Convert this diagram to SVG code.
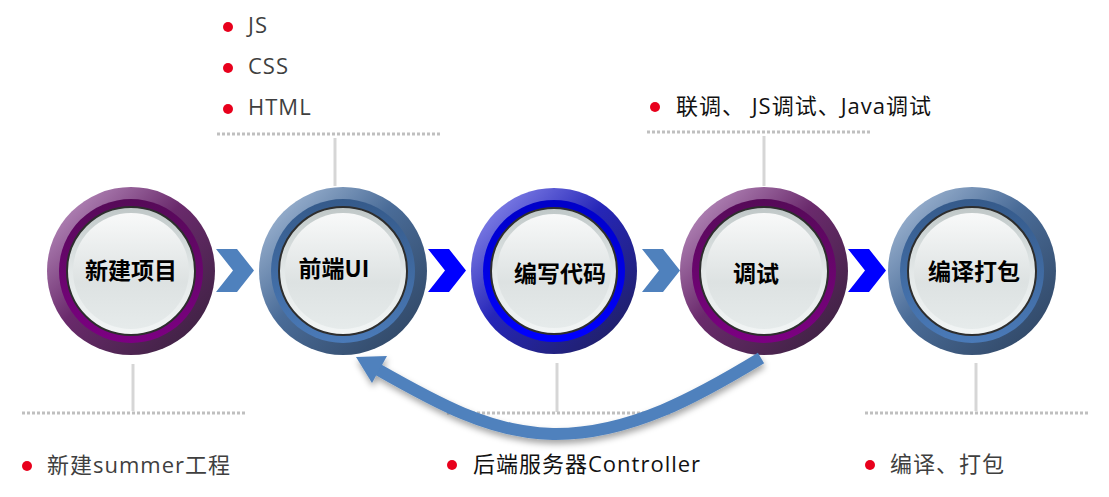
<svg xmlns="http://www.w3.org/2000/svg" width="1109" height="497" viewBox="0 0 1109 497">
<defs>
<style>
.lbl{font-family:"Noto Sans CJK SC",sans-serif;font-size:23px;font-weight:bold;fill:#000;text-anchor:middle}
.note{font-family:"Open Sans","Noto Sans CJK SC",sans-serif;font-size:22px;letter-spacing:1px;fill:#3F3F3F}
.noteb{font-family:"Open Sans","Noto Sans CJK SC",sans-serif;font-size:22px;letter-spacing:1px;fill:#111}
.dot{fill:#E8001C}
.dash{stroke:#BFBFBF;stroke-width:3;stroke-dasharray:3 2;fill:none}
.vl{stroke:#D6D6D6;stroke-width:3;fill:none}
.rim{fill:url(#disk);stroke:#2E2E2E;stroke-width:2}
.core{fill:url(#core)}
.chs{fill:#4F81BD}
.chb{fill:#0000FF}
</style>
<linearGradient id="pOut" x1="0" y1="0" x2="1" y2="1"><stop offset="0" stop-color="#C9A3CF"/><stop offset="0.45" stop-color="#6A2A6C"/><stop offset="1" stop-color="#35203A"/></linearGradient>
<linearGradient id="pIn" x1="0" y1="0" x2="0" y2="1"><stop offset="0" stop-color="#560A58"/><stop offset="1" stop-color="#7C0082"/></linearGradient>
<linearGradient id="sOut" x1="0" y1="0" x2="1" y2="1"><stop offset="0" stop-color="#B3C7E0"/><stop offset="0.45" stop-color="#4A6C98"/><stop offset="1" stop-color="#2B405C"/></linearGradient>
<linearGradient id="sIn" x1="0" y1="0" x2="0" y2="1"><stop offset="0" stop-color="#355A8A"/><stop offset="1" stop-color="#4A7AB8"/></linearGradient>
<linearGradient id="bOut" x1="0" y1="0" x2="1" y2="1"><stop offset="0" stop-color="#9C9CF5"/><stop offset="0.45" stop-color="#2626B8"/><stop offset="1" stop-color="#1E1E55"/></linearGradient>
<linearGradient id="bIn" x1="0" y1="0" x2="0" y2="1"><stop offset="0" stop-color="#0000C8"/><stop offset="1" stop-color="#0000FF"/></linearGradient>
<linearGradient id="disk" x1="0" y1="0" x2="0" y2="1"><stop offset="0" stop-color="#BFC7C7"/><stop offset="0.5" stop-color="#E3E8E8"/><stop offset="1" stop-color="#F2F5F5"/></linearGradient>
<linearGradient id="core" x1="0" y1="0" x2="0" y2="1"><stop offset="0" stop-color="#F8F9F9"/><stop offset="0.6" stop-color="#DDE2E2"/><stop offset="1" stop-color="#E6EBEB"/></linearGradient>
<filter id="sh" x="-10%" y="-20%" width="120%" height="150%"><feDropShadow dx="1" dy="4" stdDeviation="3" flood-color="#000" flood-opacity="0.35"/></filter>
<polygon id="chev" points="0,0 21,0 38,21.5 21,43 0,43 17,21.5"/>
</defs>

<g id="guides">
<line class="vl" x1="335" y1="138" x2="335" y2="186"/>
<line class="dash" x1="217" y1="134" x2="441" y2="134"/>
<line class="vl" x1="764" y1="136" x2="764" y2="186"/>
<line class="dash" x1="647" y1="132" x2="870" y2="132"/>
<line class="vl" x1="133" y1="364" x2="133" y2="411"/>
<line class="dash" x1="22" y1="413" x2="246" y2="413"/>
<line class="vl" x1="557" y1="363" x2="557" y2="412"/>
<line class="dash" x1="447" y1="413" x2="670" y2="413"/>
<line class="vl" x1="976" y1="363" x2="976" y2="411"/>
<line class="dash" x1="865" y1="413" x2="1090" y2="413"/>
</g>

<g id="node1">
<circle cx="131" cy="271" r="84" fill="url(#pOut)"/>
<circle cx="131" cy="271" r="72" fill="url(#pIn)"/>
<circle class="rim" cx="131" cy="271" r="64"/>
<circle class="core" cx="131" cy="271" r="58"/>
<text class="lbl" x="131" y="279">新建项目</text>
</g>
<g id="node2">
<circle cx="343" cy="271" r="84" fill="url(#sOut)"/>
<circle cx="343" cy="271" r="72" fill="url(#sIn)"/>
<circle class="rim" cx="343" cy="271" r="64"/>
<circle class="core" cx="343" cy="271" r="58"/>
<text class="lbl" x="334" y="277">前端UI</text>
</g>
<g id="node3">
<circle cx="554" cy="271" r="83" fill="url(#bOut)"/>
<circle cx="554" cy="271" r="71" fill="url(#bIn)"/>
<circle class="rim" cx="554" cy="271" r="63"/>
<circle class="core" cx="554" cy="271" r="57"/>
<text class="lbl" x="560" y="282">编写代码</text>
</g>
<g id="node4">
<circle cx="764" cy="271" r="84" fill="url(#pOut)"/>
<circle cx="764" cy="271" r="72" fill="url(#pIn)"/>
<circle class="rim" cx="764" cy="271" r="64"/>
<circle class="core" cx="764" cy="271" r="58"/>
<text class="lbl" x="756" y="282">调试</text>
</g>
<g id="node5">
<circle cx="972" cy="271" r="84" fill="url(#sOut)"/>
<circle cx="972" cy="271" r="72" fill="url(#sIn)"/>
<circle class="rim" cx="972" cy="271" r="64"/>
<circle class="core" cx="972" cy="271" r="58"/>
<text class="lbl" x="974" y="280">编译打包</text>
</g>

<g id="connectors">
<use href="#chev" class="chs" x="216" y="249"/>
<use href="#chev" class="chb" x="428" y="249"/>
<use href="#chev" class="chs" x="642" y="249"/>
<use href="#chev" class="chb" x="848" y="249"/>
<g filter="url(#sh)">
<path d="M761,358 C700,395 630,435 553,434 C490,433 435,402 377,369" fill="none" stroke="#4F81BD" stroke-width="12"/>
<polygon points="356,357 387,356 372,383" fill="#4F81BD"/>
</g>
</g>

<g id="notes">
<circle class="dot" cx="228" cy="27" r="5"/>
<text class="note" x="248" y="33">JS</text>
<circle class="dot" cx="228" cy="68" r="5"/>
<text class="note" x="248" y="74">CSS</text>
<circle class="dot" cx="228" cy="109" r="5"/>
<text class="note" x="248" y="115">HTML</text>
<circle class="dot" cx="655" cy="107" r="5"/>
<text class="noteb" x="676" y="114">联调、 JS调试、Java调试</text>
<circle class="dot" cx="27" cy="466" r="5"/>
<text class="note" x="47" y="473">新建summer工程</text>
<circle class="dot" cx="452" cy="465" r="5"/>
<text class="noteb" x="473" y="472">后端服务器Controller</text>
<circle class="dot" cx="870" cy="465" r="5"/>
<text class="note" x="890" y="472">编译、打包</text>
</g>
</svg>
